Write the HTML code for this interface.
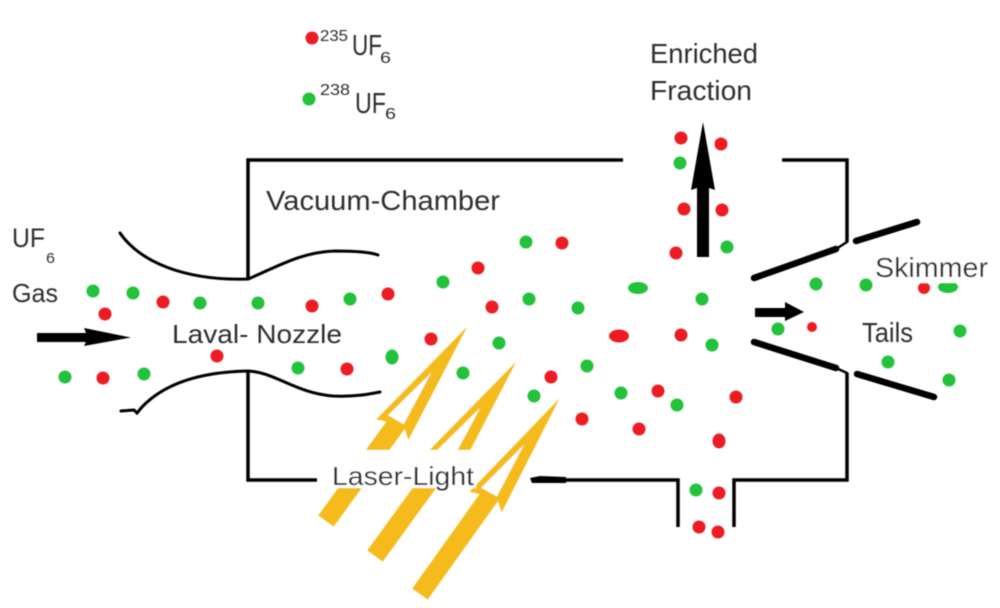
<!DOCTYPE html>
<html>
<head>
<meta charset="utf-8">
<style>
html,body{margin:0;padding:0;background:#fff;}
svg{display:block;}
text{font-family:"Liberation Sans",sans-serif;fill:#2e2e2e;}
</style>
</head>
<body>
<svg width="1000" height="608" viewBox="0 0 1000 608" xmlns="http://www.w3.org/2000/svg">
<defs>
<filter id="b" x="-5%" y="-5%" width="110%" height="110%"><feGaussianBlur stdDeviation="0.5"/></filter>
</defs>
<rect width="1000" height="608" fill="#fff"/>
<g filter="url(#b)">

<!-- Laser arrows -->
<g fill="#f5bb1c">
  <g transform="translate(326,521) rotate(-54)">
    <polygon points="0,-9.5 116,-9.5 112,-19 240,0 114,19 121,9.5 0,9.5"/>
    <polygon points="122,-12 182,-2 124,6" fill="#fff"/>
  </g>
  <g transform="translate(375,556) rotate(-54)">
    <polygon points="0,-9.5 116,-9.5 112,-19 240,0 114,19 121,9.5 0,9.5"/>
    <polygon points="122,-12 182,-2 124,6" fill="#fff"/>
  </g>
  <g transform="translate(420,594) rotate(-54.5)">
    <polygon points="0,-9.5 116,-9.5 112,-19 240,0 114,19 121,9.5 0,9.5"/>
    <polygon points="122,-12 182,-2 124,6" fill="#fff"/>
  </g>
</g>
<rect x="322" y="450" width="154" height="38" fill="#fff"/>

<!-- Chamber -->
<g fill="none" stroke="#000" stroke-width="3.5" stroke-linejoin="miter">
  <path d="M248,279 L248,160 L623,160"/>
  <path d="M782,160 L847,160 L847,242"/>
  <path d="M847,373 L847,480 L734,480 L734,527"/>
  <path d="M678,527 L678,480 L560,480"/>
  <path d="M248,371 L248,480 L317,480"/>
</g>
<path d="M530,478 L540,476 L566,477 L566,483 L532,483 Z" fill="#000"/>

<!-- Nozzle -->
<g fill="none" stroke="#000" stroke-width="3" stroke-linecap="round">
  <path d="M120,233 C140,262 185,281 248,279 C275,268 300,252 335,251 C355,251 370,252 378,255"/>
  <path d="M121,411 L134,410 L137,413 L142,407 C162,386 195,372 248,371 C275,372 295,393 333,396 C355,397 370,394 380,392"/>
</g>

<!-- Skimmer -->
<g fill="none" stroke="#000" stroke-linecap="round">
  <path d="M754,278 L836,249" stroke-width="6.5"/>
  <path d="M836,249 L847,242" stroke-width="2.5"/>
  <path d="M856,241 L917,222" stroke-width="6.5"/>
  <path d="M754,342 L836,368" stroke-width="6.5"/>
  <path d="M836,368 L847,373" stroke-width="2.5"/>
  <path d="M857,374 L934,397" stroke-width="6.5"/>
</g>

<!-- Black arrows -->
<g fill="#000">
  <rect x="37" y="333" width="51" height="9"/>
  <polygon points="84,328 131,337.5 84,346 88,337.5"/>
  <rect x="697" y="182" width="12" height="75"/>
  <polygon points="691,190 703,122 715,190 703,186"/>
  <rect x="755" y="308" width="33" height="9"/>
  <polygon points="785,302 804,312 785,321"/>
</g>

<!-- Red dots -->
<g fill="#ec1c24">
  <circle cx="312" cy="38" r="6.5"/>
  <circle cx="105" cy="314" r="6.5"/>
  <circle cx="163" cy="302" r="6.5"/>
  <circle cx="312" cy="306" r="6.5"/>
  <circle cx="217" cy="356" r="6.5"/>
  <circle cx="103" cy="378" r="6.5"/>
  <circle cx="347" cy="369" r="6.5"/>
  <circle cx="388" cy="294" r="6.5"/>
  <circle cx="478" cy="268" r="6.5"/>
  <circle cx="492" cy="307" r="6.5"/>
  <circle cx="431" cy="339" r="6.5"/>
  <circle cx="562" cy="243" r="6.5"/>
  <circle cx="551" cy="377" r="6.5"/>
  <circle cx="582" cy="419" r="6.5"/>
  <circle cx="658" cy="391" r="6.5"/>
  <circle cx="639" cy="429" r="6.5"/>
  <circle cx="676" cy="253" r="6.5"/>
  <circle cx="681" cy="335" r="6.5"/>
  <circle cx="736" cy="397" r="6.5"/>
  <ellipse cx="719" cy="441" rx="6.5" ry="7.5"/>
  <circle cx="681" cy="138" r="6.5"/>
  <circle cx="721" cy="144" r="6.5"/>
  <circle cx="684" cy="209" r="6.5"/>
  <circle cx="722" cy="210" r="6.5"/>
  <circle cx="719" cy="493" r="6.5"/>
  <circle cx="699" cy="527" r="6.5"/>
  <circle cx="718" cy="532" r="6.5"/>
  <circle cx="812" cy="327" r="5"/>
  <ellipse cx="619" cy="336" rx="10" ry="6.5"/>
</g>

<!-- Green dots -->
<g fill="#22c23a">
  <circle cx="309" cy="99" r="6.5"/>
  <circle cx="93" cy="291" r="6.5"/>
  <circle cx="133" cy="293" r="6.5"/>
  <circle cx="200" cy="303" r="6.5"/>
  <circle cx="258" cy="303" r="6.5"/>
  <circle cx="350" cy="299" r="6.5"/>
  <circle cx="65" cy="377" r="6.5"/>
  <circle cx="144" cy="374" r="6.5"/>
  <circle cx="298" cy="368" r="6.5"/>
  <circle cx="443" cy="282" r="6.5"/>
  <circle cx="526" cy="242" r="6.5"/>
  <circle cx="529" cy="299" r="6.5"/>
  <circle cx="578" cy="308" r="6.5"/>
  <circle cx="499" cy="343" r="6.5"/>
  <ellipse cx="392" cy="357" rx="6.5" ry="7.5"/>
  <circle cx="463" cy="373" r="6.5"/>
  <circle cx="587" cy="366" r="6.5"/>
  <circle cx="534" cy="396" r="6.5"/>
  <circle cx="621" cy="393" r="6.5"/>
  <circle cx="677" cy="405" r="6.5"/>
  <circle cx="727" cy="247" r="6.5"/>
  <circle cx="702" cy="299" r="6.5"/>
  <circle cx="712" cy="345" r="6.5"/>
  <circle cx="680" cy="163" r="6.5"/>
  <circle cx="816" cy="284" r="6.5"/>
  <circle cx="866" cy="285" r="6.5"/>
  <circle cx="778" cy="329" r="6.5"/>
  <circle cx="960" cy="331" r="6.5"/>
  <circle cx="888" cy="362" r="6.5"/>
  <circle cx="949" cy="380" r="6.5"/>
  <circle cx="696" cy="490" r="6.5"/>
  <ellipse cx="638" cy="288" rx="10" ry="6"/>
  <ellipse cx="948" cy="287" rx="10" ry="6"/>
</g>
<circle cx="924" cy="288" r="6" fill="#ec1c24"/>
<rect x="873" y="250" width="118" height="33" fill="#fff"/>

<!-- Labels -->
<text x="320" y="41" font-size="16" textLength="28" lengthAdjust="spacingAndGlyphs">235</text>
<text x="352" y="55" font-size="29" textLength="30" lengthAdjust="spacingAndGlyphs">UF</text>
<text x="380" y="63" font-size="16" textLength="11" lengthAdjust="spacingAndGlyphs">6</text>
<text x="320" y="95" font-size="16" textLength="30" lengthAdjust="spacingAndGlyphs">238</text>
<text x="355" y="113" font-size="29" textLength="31" lengthAdjust="spacingAndGlyphs">UF</text>
<text x="385" y="119" font-size="16" textLength="11" lengthAdjust="spacingAndGlyphs">6</text>

<text x="12" y="247" font-size="27" textLength="33" lengthAdjust="spacingAndGlyphs">UF</text>
<text x="46" y="263" font-size="15" textLength="9" lengthAdjust="spacingAndGlyphs">6</text>
<text x="12" y="302" font-size="26" textLength="46" lengthAdjust="spacingAndGlyphs">Gas</text>

<text x="266" y="210" font-size="28" textLength="234" lengthAdjust="spacingAndGlyphs">Vacuum-Chamber</text>
<text x="172" y="343" font-size="26" textLength="170" lengthAdjust="spacingAndGlyphs">Laval- Nozzle</text>
<text x="332" y="485" font-size="26" textLength="142" lengthAdjust="spacingAndGlyphs">Laser-Light</text>
<text x="650" y="63" font-size="28" textLength="108" lengthAdjust="spacingAndGlyphs">Enriched</text>
<text x="650" y="100" font-size="28" textLength="102" lengthAdjust="spacingAndGlyphs">Fraction</text>
<text x="875" y="277" font-size="28" textLength="113" lengthAdjust="spacingAndGlyphs">Skimmer</text>
<text x="862" y="342" font-size="28" textLength="51" lengthAdjust="spacingAndGlyphs">Tails</text>
</g>
</svg>
</body>
</html>
